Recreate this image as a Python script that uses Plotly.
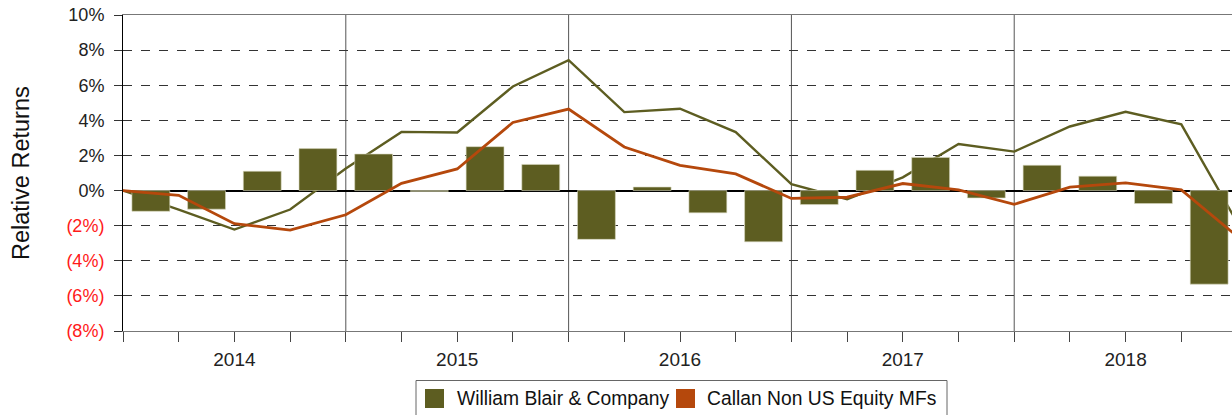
import plotly.graph_objects as go

# Quarter boundaries (0 = start of 2014) and quarter centres
quarter_ends = list(range(21))
quarter_mids = [q + 0.5 for q in range(20)]
years = ["2014", "2015", "2016", "2017", "2018"]

# Quarterly relative return of the manager (bars)
wb_quarterly = [-1.18, -1.06, 1.10, 2.39,
                2.08, -0.05, 2.50, 1.49,
                -2.78, 0.20, -1.27, -2.92,
                -0.80, 1.15, 1.89, -0.42,
                1.44, 0.82, -0.74, -5.33]

# Cumulative relative returns (lines)
wb_cumulative = [0.0, -1.08, -2.22, -1.08, 1.25,
                 3.34, 3.31, 5.93, 7.43,
                 4.47, 4.66, 3.33, 0.36,
                 -0.49, 0.75, 2.65, 2.22,
                 3.65, 4.49, 3.77, -1.80]
callan_cumulative = [0.0, -0.27, -1.89, -2.25, -1.38,
                     0.41, 1.23, 3.88, 4.64,
                     2.48, 1.44, 0.95, -0.45,
                     -0.38, 0.40, 0.04, -0.78,
                     0.19, 0.44, 0.04, -2.60]

y_ticks = [10, 8, 6, 4, 2, 0, -2, -4, -6, -8]
series_names = ["William Blair & Company", "Callan Non US Equity MFs"]

OLIVE = "#5d5d21"
RUST = "#b5480c"
FONT = "Liberation Sans, Arial, sans-serif"
X_RANGE = [0, 19.91]
Y_RANGE = [-8, 10]

# Page geometry (pixels) used to place the hand-built legend and title
W, H = 1232, 415
ML, MR, MT, MB = 123, 0, 15, 84
PW, PH = W - ML - MR, H - MT - MB


def px_x(x):
    return (x - ML) / PW


def px_y(y):
    return (H - MB - y) / PH


def pct_label(v):
    if v < 0:
        return f'<span style="color:#ff1a1a">({abs(v)}%)</span>'
    return f"{v}%"


year_positions = {2 + 4 * i: y for i, y in enumerate(years)}
x_ticktext = [year_positions.get(q, "") for q in quarter_ends]

fig = go.Figure()

# Manager cumulative line sits underneath the bars
fig.add_trace(go.Scatter(
    x=quarter_ends, y=wb_cumulative, mode="lines",
    line=dict(color=OLIVE, width=2.4), showlegend=False,
    xaxis="x", yaxis="y", hoverinfo="skip"))

fig.add_trace(go.Bar(
    x=quarter_mids, y=wb_quarterly, width=0.68,
    marker=dict(color=OLIVE, line=dict(color="#d8d8c0", width=0.6)),
    name=series_names[0], showlegend=False,
    xaxis="x2", yaxis="y2"))

fig.add_trace(go.Scatter(
    x=quarter_ends, y=callan_cumulative, mode="lines",
    line=dict(color=RUST, width=2.8), name=series_names[1], showlegend=False,
    xaxis="x2", yaxis="y2"))

# Year separators
for b in [4, 8, 12, 16]:
    fig.add_shape(type="line", x0=b, x1=b, y0=0, y1=1, xref="x", yref="paper",
                  line=dict(color="#555555", width=1), layer="below")

# Legend box (runs off the bottom of the page) with square keys
fig.add_shape(type="rect", xref="paper", yref="paper",
              x0=px_x(416), x1=px_x(947), y0=px_y(425), y1=px_y(380.5),
              line=dict(color="#666666", width=1), fillcolor="white")
legend_keys = [(425, 444, OLIVE, 455), (676, 695, RUST, 705)]
for (k0, k1, col, tx), name in zip(legend_keys, series_names):
    fig.add_shape(type="rect", xref="paper", yref="paper",
                  x0=px_x(k0), x1=px_x(k1), y0=px_y(408), y1=px_y(389),
                  line=dict(width=0), fillcolor=col)
    fig.add_annotation(text=name, xref="paper", yref="paper",
                       x=px_x(tx), y=px_y(398.5), xanchor="left", yanchor="middle",
                       showarrow=False, font=dict(family=FONT, size=19.3, color="#111111"))

# Y-axis title
fig.add_annotation(text="Relative Returns", xref="paper", yref="paper",
                   x=px_x(21), y=0.5, xanchor="center", yanchor="middle",
                   textangle=-90, showarrow=False,
                   font=dict(family=FONT, size=23.5, color="#111111"))

fig.update_layout(
    width=W, height=H,
    margin=dict(l=ML, r=MR, t=MT, b=MB),
    paper_bgcolor="white", plot_bgcolor="white",
    font=dict(family=FONT, size=18, color="#222222"),
    barmode="overlay",
    showlegend=False,
    xaxis=dict(
        range=X_RANGE, tickmode="array", tickvals=quarter_ends, ticktext=x_ticktext,
        ticks="outside", ticklen=10, tickcolor="#444444", tickwidth=1,
        showgrid=False, zeroline=False,
        showline=True, linecolor="#777777", linewidth=1, mirror=True,
        tickfont=dict(size=19, color="#222222"), ticklabelstandoff=1),
    yaxis=dict(
        range=Y_RANGE, tickmode="array", tickvals=y_ticks,
        ticktext=[pct_label(v) for v in y_ticks],
        ticks="outside", ticklen=8, tickcolor="#333333",
        showgrid=True, gridcolor="#333333", griddash="dash", gridwidth=1,
        zeroline=True, zerolinecolor="#000000", zerolinewidth=1.6,
        showline=True, linecolor="#000000", linewidth=1,
        tickfont=dict(size=18, color="#222222"), ticklabelstandoff=6),
    xaxis2=dict(range=X_RANGE, overlaying="x", visible=False),
    yaxis2=dict(range=Y_RANGE, overlaying="y", visible=False),
)

fig.write_html("out.html")
